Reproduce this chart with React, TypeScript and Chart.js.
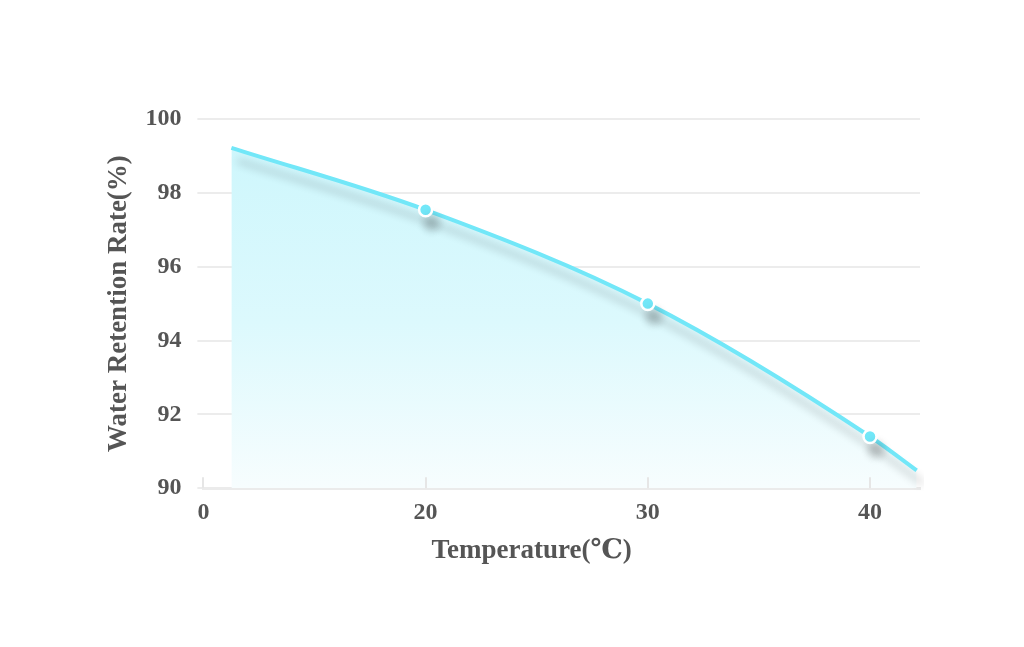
import React, { useEffect, useRef } from "react";
import { Chart, registerables } from "chart.js";

Chart.register(...registerables);

// Category positions on the x axis and their labels
const xTickPositions = [0, 1, 2, 3];
const xTickLabels = ["0", "20", "30", "40"];

// Curve samples (x in tick-position units, y in %)
const curveX = [0.126, 1, 2, 3, 3.21];
const curveY = [99.22, 97.54, 95.0, 91.4, 90.48];
const markerShown = [false, true, true, true, false];

const yTicks = [90, 92, 94, 96, 98, 100];

const xTitle = "Temperature(℃)";
const yTitle = "Water Retention Rate(%)";

const FONT = "'Liberation Serif', 'DejaVu Serif', serif";
const TEXT = "#555555";

export default function App() {
  const ref = useRef<HTMLCanvasElement | null>(null);

  useEffect(() => {
    if (!ref.current) return;

    const shadowPlugin = {
      id: "lineShadow",
      beforeDatasetDraw(chart: any) {
        const ctx = chart.ctx;
        ctx.save();
        ctx.shadowColor = "rgba(0,0,0,0.2)";
        ctx.shadowBlur = 8;
        ctx.shadowOffsetX = 6;
        ctx.shadowOffsetY = 13;
      },
      afterDatasetDraw(chart: any) {
        chart.ctx.restore();
      },
    };

    const extras = {
      id: "extras",
      afterDraw(chart: any) {
        const ctx = chart.ctx;
        const xs = chart.scales.x;
        const { left, right, bottom } = chart.chartArea;
        ctx.save();
        ctx.strokeStyle = "#e6e6e6";
        ctx.lineWidth = 2;
        xTickPositions.forEach((v) => {
          const px = Math.round(xs.getPixelForValue(v));
          ctx.beginPath();
          ctx.moveTo(px, bottom - 11);
          ctx.lineTo(px, bottom);
          ctx.stroke();
        });
        ctx.fillStyle = TEXT;
        ctx.font = `bold 27px ${FONT}`;
        ctx.textAlign = "center";
        ctx.textBaseline = "middle";
        ctx.fillText(xTitle, (left + right) / 2 - 30, bottom + 63);
        ctx.restore();
      },
    };

    const chart = new Chart(ref.current, {
      type: "line",
      data: {
        datasets: [
          {
            data: curveX.map((x, i) => ({ x, y: curveY[i] })),
            borderColor: "#72e7f8",
            borderWidth: 4,
            cubicInterpolationMode: "monotone",
            fill: "start",
            backgroundColor: (c: any) => {
              const area = c.chart.chartArea;
              if (!area) return "#d2f6fb";
              const g = c.chart.ctx.createLinearGradient(0, area.top, 0, area.bottom);
              g.addColorStop(0, "#ccf6fc");
              g.addColorStop(0.55, "#dcf9fd");
              g.addColorStop(1, "#f7fdfe");
              return g;
            },
            pointRadius: markerShown.map((m) => (m ? 6.5 : 0)),
            pointBackgroundColor: "#72e7f8",
            pointBorderColor: "#ffffff",
            pointBorderWidth: 2.5,
            clip: 4,
          } as any,
        ],
      },
      plugins: [shadowPlugin, extras],
      options: {
        animation: false,
        responsive: false,
        layout: { padding: { top: 111, right: 96, left: 95, bottom: 110 } },
        plugins: { legend: { display: false }, tooltip: { enabled: false } },
        scales: {
          x: {
            type: "linear",
            min: 0,
            max: 3.225,
            afterBuildTicks: (s: any) => {
              s.ticks = xTickPositions.map((v) => ({ value: v }));
            },
            ticks: {
              callback: (v: any) => xTickLabels[xTickPositions.indexOf(v)] ?? "",
              font: { family: FONT, size: 24, weight: "bold" },
              color: TEXT,
              padding: 2,
              maxRotation: 0,
            },
            grid: { display: false },
            border: { display: true, color: "#ebebeb", width: 3 },
            title: { display: false },
          },
          y: {
            min: 90,
            max: 100,
            afterBuildTicks: (s: any) => {
              s.ticks = yTicks.map((v) => ({ value: v }));
            },
            ticks: {
              font: { family: FONT, size: 24, weight: "bold" },
              color: TEXT,
              padding: 16,
            },
            grid: { color: "#ececec", lineWidth: 2, tickLength: 6, drawTicks: true },
            border: { display: false },
            title: {
              display: true,
              text: yTitle,
              font: { family: FONT, size: 27, weight: "bold" },
              color: TEXT,
              padding: { top: 0, bottom: -6 },
            },
          },
        },
      },
    } as any);

    return () => chart.destroy();
  }, []);

  return (
    <div style={{ width: 1008, height: 631 }}>
      <canvas ref={ref} width={1008} height={631} style={{ display: "block" }} />
    </div>
  );
}
